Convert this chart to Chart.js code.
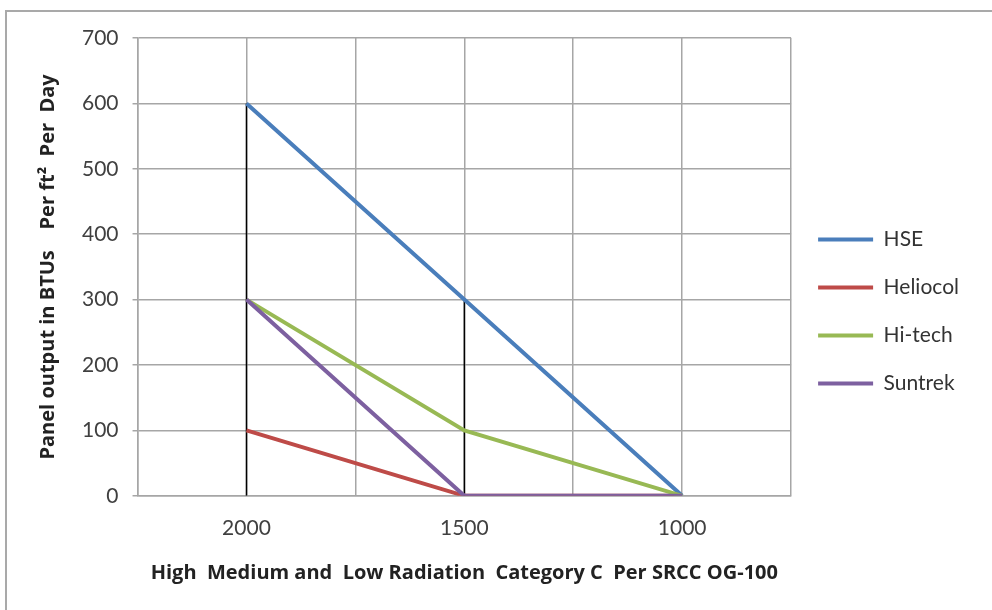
<!DOCTYPE html>
<html>
<head>
<meta charset="utf-8">
<script src="https://cdn.jsdelivr.net/npm/chart.js@4.4.0/dist/chart.umd.min.js"></script>
<style>
  body { margin: 0; background: #fff; }
  #frame { position: absolute; left: 5px; top: 10px; width: 1000px; height: 620px;
           border-top: 2px solid #a9a9a9; border-left: 2px solid #a9a9a9; }
  #wrap { position: absolute; left: 0; top: 0; width: 992px; height: 610px; }
</style>
</head>
<body>
<div id="frame"></div>
<div id="wrap"><canvas id="myChart" width="992" height="610"></canvas></div>
<script>
// radiation levels (x) and panel output per series
const radiation = [2000, 1500, 1000];
const hse      = [600, 300, 0];
const heliocol = [100, 0, 0];
const hitech   = [300, 100, 0];
const suntrek  = [300, 0, 0];
const xTickLabels = [2000, 1500, 1000];
// vertical black drop lines
const drop2000 = [0, 600];
const drop1500 = [0, 300];

function pts(xs, ys) {
    return xs.map((x, i) => ({ x: x, y: ys[i] }));
}
function series(label, values, color, order) {
    return {
        label: label,
        data: pts(radiation, values),
        borderColor: color,
        backgroundColor: color,
        borderWidth: 4,
        pointRadius: 0,
        order: order
    };
}
function dropLine(x, ys) {
    return {
        label: '',
        data: ys.map(y => ({ x: x, y: y })),
        borderColor: '#000',
        borderWidth: 1.5,
        pointRadius: 0,
        order: 10
    };
}

const font = "Lato, 'Open Sans', sans-serif";
const titleFont = "'Open Sans', Lato, sans-serif";
var ctx = document.getElementById('myChart').getContext('2d');
var myChart = new Chart(ctx, {
    type: 'line',
    data: {
        datasets: [
            series('HSE', hse, '#4a7ebb', 4),
            series('Heliocol', heliocol, '#be4b48', 3),
            series('Hi-tech', hitech, '#98b954', 2),
            series('Suntrek', suntrek, '#7d60a0', 1),
            dropLine(2000, drop2000),
            dropLine(1500, drop1500)
        ]
    },
    options: {
        responsive: false,
        animation: false,
        layout: { padding: { left: 32, top: 38, right: 23, bottom: 25 } },
        plugins: {
            tooltip: { enabled: false },
            legend: {
                position: 'right',
                align: 'center',
                labels: {
                    filter: item => item.text !== '',
                    sort: (a, b) => a.datasetIndex - b.datasetIndex,
                    usePointStyle: true,
                    pointStyle: 'line',
                    pointStyleWidth: 55,
                    padding: 27,
                    color: '#333',
                    font: { family: font, size: 21 }
                }
            }
        },
        scales: {
            x: {
                type: 'linear',
                reverse: true,
                min: 750,
                max: 2250,
                ticks: {
                    stepSize: 250,
                    color: '#404040',
                    padding: 20,
                    font: { family: font, size: 21 },
                    callback: v => xTickLabels.includes(v) ? String(v) : ''
                },
                grid: { color: '#a6a6a6', lineWidth: 1.5, drawTicks: false },
                border: { color: '#a6a6a6', width: 1.5 },
                title: {
                    display: true,
                    text: 'High  Medium and  Low Radiation  Category C  Per SRCC OG-100',
                    color: '#222',
                    font: { family: titleFont, size: 20, weight: 'bold' },
                    padding: { top: 0, bottom: 0 }
                }
            },
            y: {
                min: 0,
                max: 700,
                ticks: {
                    stepSize: 100,
                    color: '#404040',
                    padding: 14,
                    font: { family: font, size: 21 }
                },
                grid: { color: '#a6a6a6', lineWidth: 1.5, tickLength: 5 },
                border: { color: '#a6a6a6', width: 1.5 },
                title: {
                    display: true,
                    text: 'Panel output in BTUs    Per ft\u00b2  Per  Day',
                    color: '#222',
                    font: { family: titleFont, size: 20, weight: 'bold' },
                    padding: { bottom: 8 }
                }
            }
        }
    }
});
</script>
</body>
</html>
